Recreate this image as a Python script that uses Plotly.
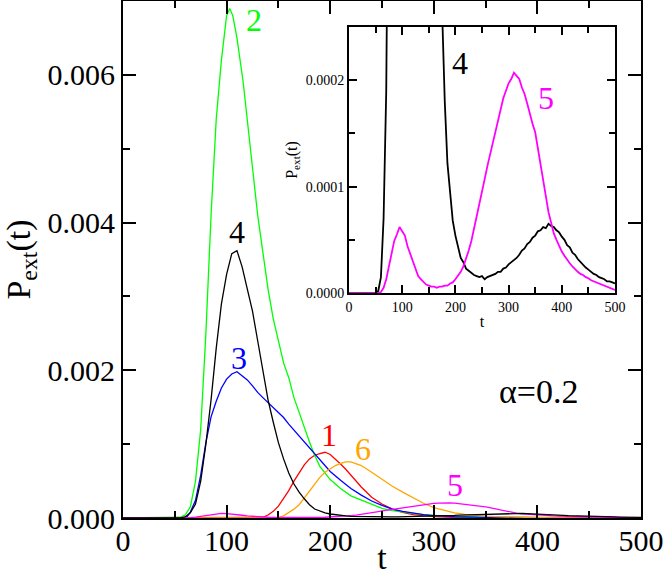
import plotly.graph_objects as go

# ── data ─────────────────────────────────────────────────────────────────────
T5 = list(range(0, 505, 5))

# curve 4 (black), also shown in the inset
P4 = [0, 0, 0, 0, 0, 0, 0, 0, 0, 0, 0, 2e-6, 1.5e-5, 7e-5, 0.00019, 0.0005,
      0.001, 0.0016, 0.0023, 0.0029, 0.0033, 0.00358, 0.00362, 0.0034, 0.0031,
      0.0028, 0.0024, 0.002, 0.0016, 0.0013, 0.00102, 0.0008, 0.00061, 0.00046,
      0.00035, 0.00026, 0.00018, 0.000122, 0.000092, 0.000068, 0.000054,
      0.000043, 0.000033, 0.000029, 0.000023, 0.000021, 0.000019, 0.000017,
      0.000016, 0.000015, 0.000016, 0.000013, 0.000015, 0.000016, 0.000017,
      0.000018, 0.000020, 0.000020, 0.000023, 0.000024, 0.000027, 0.000029,
      0.000031, 0.000033, 0.000036, 0.000040, 0.000042, 0.000046, 0.000048,
      0.000052, 0.000054, 0.000058, 0.000059, 0.000062, 0.000061, 0.000065,
      0.000063, 0.000062, 0.000059, 0.000057, 0.000053, 0.000050, 0.000045,
      0.000043, 0.000038, 0.000036, 0.000032, 0.000029, 0.000027, 0.000024,
      0.000022, 0.000020, 0.000018, 0.000017, 0.000015, 0.000014, 0.000013,
      0.000011, 0.000011, 0.000010, 0.000009]

# curve 5 (magenta), also shown in the inset
P5 = [0, 0, 0, 0, 0, 0, 0, 0, 0, 0, 0, 0, 1e-6, 5e-6, 1.3e-5, 2.4e-5, 3.7e-5,
      4.9e-5, 5.5e-5, 6.2e-5, 5.8e-5, 5.4e-5, 4.4e-5, 3.7e-5, 2.8e-5, 2.2e-5,
      1.6e-5, 1.3e-5, 1e-5, 8e-6, 7e-6, 6e-6, 6e-6, 5e-6, 6e-6, 6e-6, 7e-6,
      7e-6, 9e-6, 1e-5, 1.3e-5, 1.6e-5, 2e-5, 2.5e-5, 3.2e-5, 4e-5, 4.9e-5,
      6e-5, 7.1e-5, 8.4e-5, 9.6e-5, 0.000107, 0.000119, 0.00013, 0.000141,
      0.000152, 0.000163, 0.000172, 0.000183, 0.00019, 0.000197, 0.000201,
      0.000207, 0.000204, 0.000201, 0.000193, 0.000187, 0.000178, 0.000168,
      0.000159, 0.000151, 0.000136, 0.00012, 0.000104, 9e-5, 7.6e-5, 6.6e-5,
      5.6e-5, 5e-5, 4.4e-5, 3.9e-5, 3.5e-5, 3.1e-5, 2.8e-5, 2.5e-5, 2.2e-5,
      2e-5, 1.8e-5, 1.7e-5, 1.5e-5, 1.4e-5, 1.2e-5, 1.1e-5, 1e-5, 9e-6, 8e-6,
      7e-6, 6e-6, 5e-6, 4e-6, 3e-6]

T2 = [0, 50, 55, 60, 65, 70, 75, 80, 85, 90, 95, 100, 103, 106, 110, 116, 120,
      125, 130, 135, 140, 145, 150, 155, 160, 165, 170, 175, 180, 185, 190, 200,
      210, 220, 230, 240, 250, 260, 270, 280, 290, 300, 320, 350, 400, 450, 500]
P2 = [0, 0, 1e-5, 4e-5, 0.00015, 0.0005, 0.0012, 0.0025, 0.0041, 0.0054,
      0.0062, 0.0068, 0.0069, 0.0068, 0.0065, 0.0059, 0.0054, 0.0048, 0.0041,
      0.0036, 0.0031, 0.0027, 0.0024, 0.0021, 0.0019, 0.00163, 0.00143,
      0.00122, 0.00103, 0.00085, 0.0007, 0.00052, 0.0004, 0.0003, 0.00024,
      0.00018, 0.00013, 0.0001, 8e-5, 6e-5, 4.5e-5, 3.5e-5, 2e-5, 1e-5, 3e-6,
      1e-6, 0]

T3 = [0, 58, 62, 65, 70, 75, 80, 85, 90, 95, 100, 105, 110, 115, 120, 125, 130,
      135, 140, 145, 150, 155, 160, 165, 170, 175, 180, 185, 190, 200, 210, 220,
      230, 240, 250, 260, 270, 280, 290, 300, 320, 350, 400, 500]
P3 = [0, 0, 2e-5, 8e-5, 0.00024, 0.00058, 0.00102, 0.00137, 0.00158, 0.00176,
      0.00188, 0.00195, 0.00198, 0.00193, 0.00187, 0.00179, 0.0017, 0.00163,
      0.00156, 0.0015, 0.00143, 0.00136, 0.00127, 0.00119, 0.00111, 0.00102,
      0.00094, 0.00086, 0.00078, 0.00063, 0.00051, 0.0004, 0.00031, 0.00023,
      0.00017, 0.00012, 9e-5, 6.5e-5, 4.5e-5, 3.2e-5, 1.8e-5, 8e-6, 2e-6, 0]

T1 = [0, 130, 135, 140, 145, 150, 155, 160, 165, 170, 175, 180, 185, 190, 195,
      200, 205, 210, 215, 220, 225, 230, 240, 250, 260, 270, 280, 290, 300, 320,
      350, 400, 500]
P1 = [0, 0, 1e-5, 4e-5, 9e-5, 0.00016, 0.00026, 0.00037, 0.0005, 0.00062,
      0.00072, 0.0008, 0.00085, 0.00087, 0.00089, 0.00086, 0.0008, 0.00073,
      0.00066, 0.00058, 0.0005, 0.00042, 0.00028, 0.00019, 0.00012, 7.5e-5,
      4.5e-5, 2.8e-5, 1.8e-5, 8e-6, 3e-6, 0, 0]

T6 = [0, 148, 155, 160, 165, 170, 175, 180, 185, 190, 195, 200, 205, 210, 215,
      220, 225, 230, 240, 250, 260, 270, 280, 290, 300, 310, 320, 330, 340, 350,
      360, 380, 400, 450, 500]
P6 = [0, 0, 3e-5, 7e-5, 0.00012, 0.00018, 0.00027, 0.00037, 0.00046, 0.00055,
      0.00062, 0.00067, 0.00071, 0.00074, 0.00076, 0.00076, 0.00074, 0.00071,
      0.00062, 0.00052, 0.00043, 0.00035, 0.00027, 0.0002, 0.00014, 0.0001,
      7e-5, 5e-5, 3.5e-5, 2.5e-5, 1.8e-5, 1e-5, 5e-6, 1e-6, 0]

SERIES = [
    ("1", T1, P1, "#ff0000"),
    ("2", T2, P2, "#00ff00"),
    ("3", T3, P3, "#0000ff"),
    ("6", T6, P6, "#ffa500"),
    ("5", T5, P5, "#ff00ff"),
    ("4", T5, P4, "#000000"),
]

FONT = "Times New Roman, Liberation Serif, serif"

fig = go.Figure()

for name, t, p, col in SERIES:
    fig.add_trace(go.Scatter(x=t, y=p, mode="lines", name=name,
                             line=dict(color=col, width=1.3),
                             xaxis="x", yaxis="y"))

# inset: curves 4 and 5 zoomed
fig.add_trace(go.Scatter(x=T5, y=P4, mode="lines", line=dict(color="#000000", width=1.8),
                         xaxis="x2", yaxis="y2"))
fig.add_trace(go.Scatter(x=T5, y=P5, mode="lines", line=dict(color="#ff00ff", width=1.8),
                         xaxis="x2", yaxis="y2"))


def axis_style(size, ticklen):
    return dict(showline=True, linewidth=2, linecolor="black", mirror="ticks",
                ticks="inside", ticklen=ticklen, tickwidth=1.5, tickcolor="black",
                showgrid=False, zeroline=False, automargin=False,
                tickfont=dict(family=FONT, size=size, color="black"))


# labels next to the curves
labels = [
    ("2", 126, 0.00674, "#00ff00"),
    ("4", 110, 0.00387, "#000000"),
    ("3", 112, 0.00217, "#0000ff"),
    ("1", 199, 0.00112, "#ff0000"),
    ("6", 232, 0.00094, "#ffa500"),
    ("5", 320, 0.00045, "#ff00ff"),
]
annotations = [dict(x=x, y=y, text=s, xref="x", yref="y", showarrow=False,
                    font=dict(family=FONT, size=32, color=c))
               for s, x, y, c in labels]
annotations.append(dict(x=402, y=0.00171, text="α=0.2", xref="x", yref="y",
                        showarrow=False, font=dict(family=FONT, size=34, color="black")))
annotations.append(dict(x=209, y=0.000216, text="4", xref="x2", yref="y2",
                        showarrow=False, font=dict(family=FONT, size=32, color="black")))
annotations.append(dict(x=370, y=0.000183, text="5", xref="x2", yref="y2",
                        showarrow=False, font=dict(family=FONT, size=32, color="#ff00ff")))

fig.update_layout(
    width=664, height=576,
    margin=dict(l=123, r=23, t=1, b=58),
    plot_bgcolor="white", paper_bgcolor="white",
    showlegend=False,
    font=dict(family=FONT, color="black"),
    xaxis=dict(**axis_style(30, 13), range=[0, 500], dtick=100, domain=[0, 1],
               ticklabelstandoff=-5,
               minor=dict(dtick=50, ticklen=7, ticks="inside", tickcolor="black", tickwidth=1.5),
               title=dict(text="t", font=dict(family=FONT, size=34), standoff=6)),
    yaxis=dict(**axis_style(30, 13), range=[0, 0.007], dtick=0.002, tickformat=".3f",
               domain=[0, 1],
               minor=dict(dtick=0.001, ticklen=7, ticks="inside", tickcolor="black", tickwidth=1.5),
               title=dict(text="P<sub>ext</sub>(t)", font=dict(family=FONT, size=34), standoff=8)),
    xaxis2=dict(**axis_style(14, 8), range=[0, 500], dtick=100, anchor="y2",
                domain=[0.4363, 0.9498],
                minor=dict(dtick=50, ticklen=6, ticks="inside", tickcolor="black", tickwidth=1.5),
                title=dict(text="t", font=dict(family=FONT, size=16), standoff=2)),
    yaxis2=dict(**axis_style(14, 8), range=[0, 0.00025], dtick=0.0001, tickformat=".4f",
                anchor="x2", domain=[0.435, 0.95],
                minor=dict(dtick=0.00005, ticklen=6, ticks="inside", tickcolor="black", tickwidth=1.5),
                title=dict(text="P<sub>ext</sub>(t)", font=dict(family=FONT, size=16), standoff=4)),
    annotations=annotations,
)

# drop the page's default body margin so the figure sits at the window origin
fig.write_html("out.html", config={"displayModeBar": False},
               post_script="document.body.style.margin='0';")
